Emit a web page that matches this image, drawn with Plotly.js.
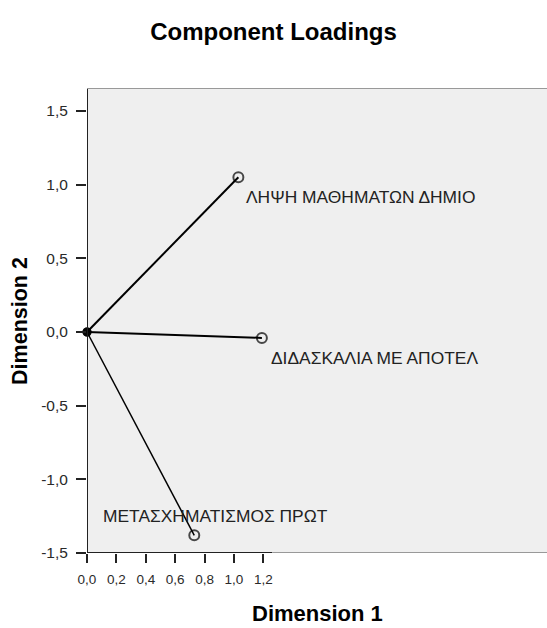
<!DOCTYPE html>
<html>
<head>
<meta charset="utf-8">
<script src="https://cdn.plot.ly/plotly-3.0.1.min.js"></script>
<style>html,body{margin:0;padding:0;background:#fff;}#chart{width:547px;height:628px;}</style>
</head>
<body>
<div id="chart"></div>
<script>
// Data
const variables = ["ΛΗΨΗ ΜΑΘΗΜΑΤΩΝ ΔΗΜΙΟ", "ΔΙΔΑΣΚΑΛΙΑ ΜΕ ΑΠΟΤΕΛ", "ΜΕΤΑΣΧΗΜΑΤΙΣΜΟΣ ΠΡΩΤ"];
const dim1 = [1.03, 1.19, 0.73];
const dim2 = [1.05, -0.04, -1.38];
const xTicks = [0, 0.2, 0.4, 0.6, 0.8, 1.0, 1.2];
const xTickText = ["0,0", "0,2", "0,4", "0,6", "0,8", "1,0", "1,2"];
const yTicks = [-1.5, -1.0, -0.5, 0.0, 0.5, 1.0, 1.5];
const yTickText = ["-1,5", "-1,0", "-0,5", "0,0", "0,5", "1,0", "1,5"];

// label offsets (px) relative to points
const labelStyle = [
  {xshift: 6, yshift: -20, xanchor: 'left'},
  {xshift: 7, yshift: -20, xanchor: 'left'},
  {xshift: 21, yshift: 19, xanchor: 'center'}
];
const lineWidths = [2, 2, 1.5];

const XMAX = 3.13, YMIN = -1.5, YMAX = 1.656;
const FONT = 'Liberation Sans, Arial, sans-serif';

const traces = variables.map((v, i) => ({
  type: 'scatter', mode: 'lines+markers',
  x: [0, dim1[i]], y: [0, dim2[i]],
  line: {color: '#000', width: lineWidths[i]},
  marker: {symbol: ['circle', 'circle-open'], size: [7, 10], color: '#000', line: {width: 2, color: '#000'}},
  hoverinfo: 'skip', showlegend: false, cliponaxis: false
}));

const annotations = variables.map((v, i) => ({
  x: dim1[i], y: dim2[i], xref: 'x', yref: 'y', text: v, showarrow: false,
  xanchor: labelStyle[i].xanchor, yanchor: 'middle',
  xshift: labelStyle[i].xshift, yshift: labelStyle[i].yshift,
  font: {family: FONT, size: 17.4, color: '#222'}
}));
annotations.push({
  xref: 'paper', yref: 'paper', x: 0.502, y: -0.131, text: 'Dimension 1', showarrow: false,
  xanchor: 'center', yanchor: 'middle',
  font: {family: FONT, size: 22, color: '#000', weight: 'bold'}
});
annotations.push({
  xref: 'paper', yref: 'paper', x: -0.1457, y: 0.499, text: 'Dimension 2', showarrow: false,
  xanchor: 'center', yanchor: 'middle', textangle: -90,
  font: {family: FONT, size: 21.5, color: '#000', weight: 'bold'}
});

const shapes = [
  {type: 'line', xref: 'x', yref: 'y', x0: 0, x1: 0, y0: YMIN, y1: YMAX, line: {color: '#222', width: 2}},
  {type: 'line', xref: 'x', yref: 'y', x0: 0, x1: 1.26, y0: YMIN, y1: YMIN, line: {color: '#222', width: 2}},
  {type: 'line', xref: 'x', yref: 'y', x0: 1.26, x1: XMAX, y0: YMIN, y1: YMIN, line: {color: '#999', width: 2}},
  {type: 'line', xref: 'x', yref: 'y', x0: 0, x1: XMAX, y0: YMAX, y1: YMAX, line: {color: '#999', width: 2}}
];

const layout = {
  width: 547, height: 628,
  margin: {l: 87, r: 0, t: 88, b: 75},
  paper_bgcolor: '#fff', plot_bgcolor: '#efefef',
  title: {text: 'Component Loadings', x: 0.5, xref: 'container', xanchor: 'center', y: 0.949, yref: 'container', yanchor: 'middle',
    font: {family: FONT, size: 24, color: '#000', weight: 'bold'}},
  xaxis: {range: [0, XMAX], tickvals: xTicks, ticktext: xTickText, ticks: 'outside', ticklen: 9, tickwidth: 2, tickcolor: '#222',
    ticklabelstandoff: 5,
    showgrid: false, zeroline: false, showline: false, fixedrange: true,
    tickfont: {family: FONT, size: 13.5, color: '#2a2a2a'}},
  yaxis: {range: [YMIN, YMAX], tickvals: yTicks, ticktext: yTickText, ticks: 'outside', ticklen: 10, tickwidth: 2, tickcolor: '#222',
    ticklabelstandoff: 5,
    showgrid: false, zeroline: false, showline: false, fixedrange: true,
    tickfont: {family: FONT, size: 15.5, color: '#2a2a2a'}},
  shapes: shapes,
  annotations: annotations
};

Plotly.newPlot('chart', traces, layout, {staticPlot: true});
</script>
</body>
</html>
